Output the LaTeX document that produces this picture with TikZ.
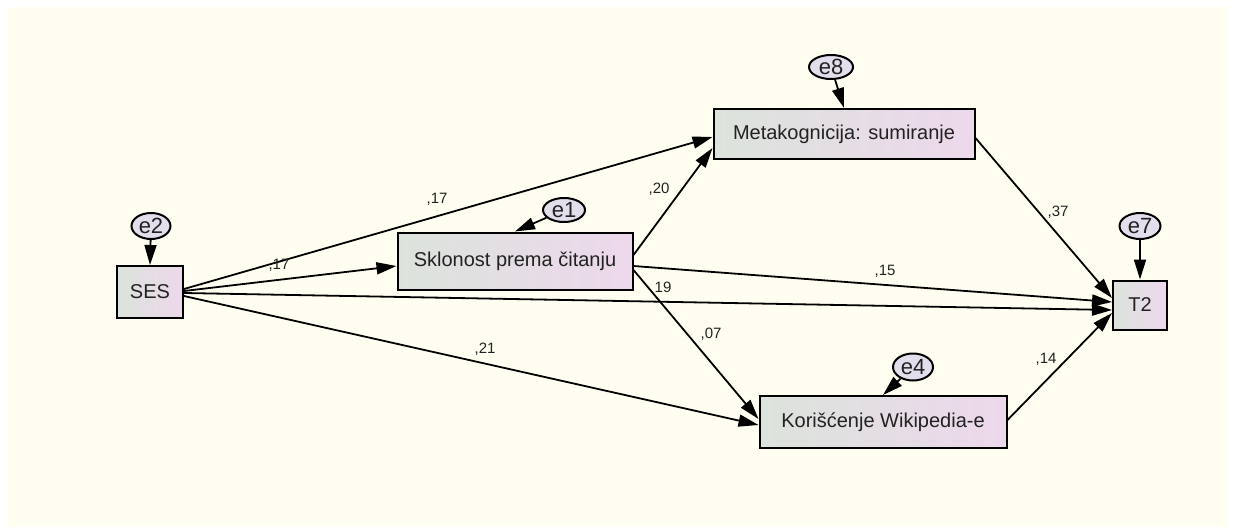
\documentclass[tikz,border=0pt]{standalone}
\usepackage{fontspec}
\setmainfont{Liberation Sans}
\usetikzlibrary{arrows.meta,calc,shapes.geometric}
\definecolor{bgcream}{HTML}{FFFEF0}
\definecolor{boxL}{HTML}{DCE3DC}
\definecolor{boxR}{HTML}{EDD8EC}
\definecolor{errfill}{HTML}{E4DDEC}
\definecolor{txt}{HTML}{222222}
\begin{document}
\begin{tikzpicture}[x=1pt,y=-1pt,
  box/.style={draw=black, line width=2pt, left color=boxL, right color=boxR,
    rectangle, inner sep=0pt, text=txt, font=\fontsize{20}{24}\selectfont},
  err/.style={draw=black, line width=2pt, ellipse, fill=errfill, inner sep=0pt,
    text=txt, font=\fontsize{22}{24}\selectfont},
  arr/.style={line width=1.8pt, -{Triangle[length=20pt,width=12pt]}},
  lbl/.style={font=\fontsize{15}{18}\selectfont, text=txt, inner sep=0pt}]
\useasboundingbox (0,0) rectangle (1236,527);
\fill[white] (0,0) rectangle (1236,527);
\fill[bgcream] (7,7) rectangle (1228,527);

% observed variables
\node[box, minimum width=66pt, minimum height=52pt] (ses) at (150,292) {SES};
\node[box, minimum width=235pt, minimum height=57pt] (skl) at (515,261) {Sklonost prema čitanju};
\node[box, minimum width=261pt, minimum height=50pt] (meta) at (844,134) {Metakognicija: sumiranje};
\node[box, minimum width=247pt, minimum height=52pt] (kor) at (883,422) {Korišćenje Wikipedia-e};
\node[box, minimum width=54pt, minimum height=49pt] (t2) at (1140,305) {T2};

% error terms
\node[err, minimum width=39pt, minimum height=26pt] (e2) at (151,226) {e2};
\node[err, minimum width=42pt, minimum height=24pt] (e1) at (564,210) {e1};
\node[err, minimum width=44pt, minimum height=24pt] (e8) at (831,67) {e8};
\node[err, minimum width=41pt, minimum height=26pt] (e7) at (1140,226) {e7};
\node[err, minimum width=40pt, minimum height=27pt] (e4) at (913,367) {e4};

\draw[arr] (e2) -- (ses.north);
\draw[arr] (e1) -- (skl.north);
\draw[arr] (e8) -- (meta.north);
\draw[arr] (e7) -- (t2.north);
\draw[arr] (e4) -- (kor.north);

% paths
\draw[arr] ($(ses.east)+(0,-3)$) -- ($(meta.west)+(0,3)$);
\draw[arr] ($(ses.east)+(0,-1)$) -- ($(skl.west)+(0,5)$);
\draw[arr] ($(ses.east)+(0,1)$) -- ($(t2.west)+(0,5)$);
\draw[arr] ($(ses.east)+(0,4)$) -- ($(kor.west)+(0,3)$);
\draw[arr] ($(skl.east)+(0,-6)$) -- ($(meta.west)+(0,14)$);
\draw[arr] ($(skl.east)+(0,5)$) -- ($(t2.west)+(0,-3)$);
\draw[arr] ($(skl.east)+(0,9)$) -- ($(kor.west)+(0,-3)$);
\draw[arr] ($(meta.east)+(0,4)$) -- ($(t2.west)+(0,-7)$);
\draw[arr] ($(kor.east)+(0,-2)$) -- ($(t2.west)+(0,8)$);

% coefficients
\node[lbl] (l1) at (437,199) {,17};
\node[lbl] (l2) at (279,265) {,17};
\node[lbl] (l3) at (659,189) {,20};
\node[lbl] (l4) at (885,271) {,15};
\node[lbl] (l5) at (663,287) {19};
\node[lbl] (l6) at (711,334) {,07};
\node[lbl] (l7) at (485,349) {,21};
\node[lbl] (l8) at (1058,212) {,37};
\node[lbl] (l9) at (1046,359) {,14};
\end{tikzpicture}
\end{document}
